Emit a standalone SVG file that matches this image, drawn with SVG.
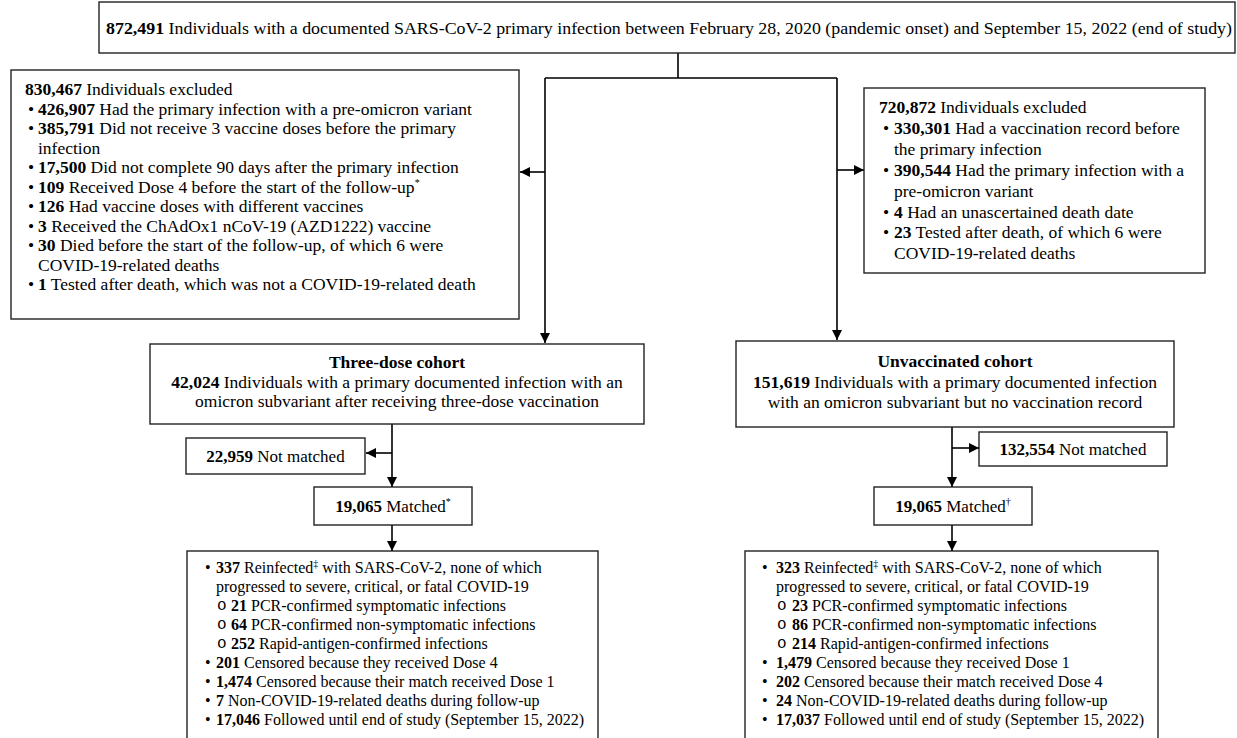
<svg xmlns="http://www.w3.org/2000/svg" width="1237" height="738" viewBox="0 0 1237 738">
<defs>
<style>
.t{font-family:"Liberation Serif","Times New Roman",serif;font-size:17.5px;fill:#000}
.m{font-size:17px}
.s{font-size:16px}
.o{font-family:"Liberation Mono","Courier New",monospace;font-size:16px;fill:#000}
.b{font-weight:bold}
.c{text-anchor:middle}
.box{fill:#fff;stroke:#222;stroke-width:1.4}
.ln{stroke:#000;stroke-width:1.6;fill:none}
.a{marker-end:url(#ah)}
</style>
<marker id="ah" markerWidth="10" markerHeight="10" refX="10" refY="5" orient="auto" markerUnits="userSpaceOnUse">
<path d="M0,0 L10,5 L0,10 z" fill="#000"/>
</marker>
</defs>
<rect width="1237" height="738" fill="#fff"/>

<g id="connectors">
<path class="ln" d="M678,53 V78 M545,78 H837"/>
<path class="ln a" d="M545,78 V343"/>
<path class="ln a" d="M545,172 H520"/>
<path class="ln a" d="M837,78 V340"/>
<path class="ln a" d="M837,170 H864"/>
<path class="ln a" d="M392,424 V487"/>
<path class="ln a" d="M392,453 H366"/>
<path class="ln a" d="M952,427 V487"/>
<path class="ln a" d="M952,448 H979"/>
<path class="ln a" d="M392,525 V551"/>
<path class="ln a" d="M952,525 V551"/>
</g>

<g id="top">
<rect class="box" x="99" y="2" width="1136" height="51"/>
<text class="t" x="106" y="34" textLength="1126" lengthAdjust="spacingAndGlyphs"><tspan class="b">872,491</tspan> Individuals with a documented SARS-CoV-2 primary infection between February 28, 2020 (pandemic onset) and September 15, 2022 (end of study)</text>
</g>

<g id="excluded-left">
<rect class="box" x="11" y="70" width="508" height="249"/>
<text class="t" x="25" y="95"><tspan class="b">830,467</tspan> Individuals excluded</text>
<text class="t" x="28" y="114.5">•</text><text class="t" x="38" y="114.5"><tspan class="b">426,907</tspan> Had the primary infection with a pre-omicron variant</text>
<text class="t" x="28" y="134">•</text><text class="t" x="38" y="134"><tspan class="b">385,791</tspan> Did not receive 3 vaccine doses before the primary</text>
<text class="t" x="38" y="153.5">infection</text>
<text class="t" x="28" y="173">•</text><text class="t" x="38" y="173"><tspan class="b">17,500</tspan> Did not complete 90 days after the primary infection</text>
<text class="t" x="28" y="192.5">•</text><text class="t" x="38" y="192.5"><tspan class="b">109</tspan> Received Dose 4 before the start of the follow-up<tspan font-size="10" dy="-7">*</tspan></text>
<text class="t" x="28" y="212">•</text><text class="t" x="38" y="212"><tspan class="b">126</tspan> Had vaccine doses with different vaccines</text>
<text class="t" x="28" y="231.5">•</text><text class="t" x="38" y="231.5"><tspan class="b">3</tspan> Received the ChAdOx1 nCoV-19 (AZD1222) vaccine</text>
<text class="t" x="28" y="251">•</text><text class="t" x="38" y="251"><tspan class="b">30</tspan> Died before the start of the follow-up, of which 6 were</text>
<text class="t" x="38" y="270.5">COVID-19-related deaths</text>
<text class="t" x="28" y="290">•</text><text class="t" x="38" y="290"><tspan class="b">1</tspan> Tested after death, which was not a COVID-19-related death</text>
</g>

<g id="excluded-right">
<rect class="box" x="864" y="88" width="341" height="185"/>
<text class="t" x="879" y="113"><tspan class="b">720,872</tspan> Individuals excluded</text>
<text class="t" x="883" y="134">•</text><text class="t" x="894" y="134"><tspan class="b">330,301</tspan> Had a vaccination record before</text>
<text class="t" x="894" y="155">the primary infection</text>
<text class="t" x="883" y="176">•</text><text class="t" x="894" y="176"><tspan class="b">390,544</tspan> Had the primary infection with a</text>
<text class="t" x="894" y="197">pre-omicron variant</text>
<text class="t" x="883" y="218">•</text><text class="t" x="894" y="218"><tspan class="b">4</tspan> Had an unascertained death date</text>
<text class="t" x="883" y="238">•</text><text class="t" x="894" y="238"><tspan class="b">23</tspan> Tested after death, of which 6 were</text>
<text class="t" x="894" y="259">COVID-19-related deaths</text>
</g>

<g id="cohort-three-dose">
<rect class="box" x="150" y="344" width="494" height="80"/>
<text class="t c b" x="397" y="368">Three-dose cohort</text>
<text class="t c" x="397" y="388"><tspan class="b">42,024</tspan> Individuals with a primary documented infection with an</text>
<text class="t c" x="397" y="407">omicron subvariant after receiving three-dose vaccination</text>
</g>

<g id="cohort-unvaccinated">
<rect class="box" x="736" y="341" width="438" height="86"/>
<text class="t c b" x="955" y="367">Unvaccinated cohort</text>
<text class="t c" x="955" y="388"><tspan class="b">151,619</tspan> Individuals with a primary documented infection</text>
<text class="t c" x="955" y="408">with an omicron subvariant but no vaccination record</text>
</g>

<g id="notmatched-left">
<rect class="box" x="186" y="438" width="179" height="36"/>
<text class="t m c" x="275.5" y="462"><tspan class="b">22,959</tspan> Not matched</text>
</g>

<g id="notmatched-right">
<rect class="box" x="979" y="432" width="188" height="34"/>
<text class="t m c" x="1073" y="455"><tspan class="b">132,554</tspan> Not matched</text>
</g>

<g id="matched-left">
<rect class="box" x="314" y="487" width="158" height="38"/>
<text class="t m c" x="393" y="512"><tspan class="b">19,065</tspan> Matched<tspan font-size="10" dy="-7">*</tspan></text>
</g>

<g id="matched-right">
<rect class="box" x="874" y="487" width="158" height="38"/>
<text class="t m c" x="953" y="512"><tspan class="b">19,065</tspan> Matched<tspan font-size="10" dy="-7">†</tspan></text>
</g>

<g id="outcome-left">
<rect class="box" x="187" y="551" width="411" height="200"/>
<text class="t s" x="205" y="573">•</text><text class="t s" x="216" y="573"><tspan class="b">337</tspan> Reinfected<tspan font-size="10" dy="-6">‡</tspan><tspan dy="6"> with SARS-CoV-2, none of which</tspan></text>
<text class="t s" x="216" y="592">progressed to severe, critical, or fatal COVID-19</text>
<text class="o" x="217" y="610">o</text><text class="t s" x="231" y="611"><tspan class="b">21</tspan> PCR-confirmed symptomatic infections</text>
<text class="o" x="217" y="629">o</text><text class="t s" x="231" y="630"><tspan class="b">64</tspan> PCR-confirmed non-symptomatic infections</text>
<text class="o" x="217" y="648">o</text><text class="t s" x="231" y="649"><tspan class="b">252</tspan> Rapid-antigen-confirmed infections</text>
<text class="t s" x="205" y="668">•</text><text class="t s" x="216" y="668"><tspan class="b">201</tspan> Censored because they received Dose 4</text>
<text class="t s" x="205" y="687">•</text><text class="t s" x="216" y="687"><tspan class="b">1,474</tspan> Censored because their match received Dose 1</text>
<text class="t s" x="205" y="706">•</text><text class="t s" x="216" y="706"><tspan class="b">7</tspan> Non-COVID-19-related deaths during follow-up</text>
<text class="t s" x="205" y="725">•</text><text class="t s" x="216" y="725"><tspan class="b">17,046</tspan> Followed until end of study (September 15, 2022)</text>
</g>

<g id="outcome-right">
<rect class="box" x="745" y="551" width="413" height="200"/>
<text class="t s" x="762" y="573">•</text><text class="t s" x="776" y="573"><tspan class="b">323</tspan> Reinfected<tspan font-size="10" dy="-6">‡</tspan><tspan dy="6"> with SARS-CoV-2, none of which</tspan></text>
<text class="t s" x="776" y="592">progressed to severe, critical, or fatal COVID-19</text>
<text class="o" x="777" y="610">o</text><text class="t s" x="792" y="611"><tspan class="b">23</tspan> PCR-confirmed symptomatic infections</text>
<text class="o" x="777" y="629">o</text><text class="t s" x="792" y="630"><tspan class="b">86</tspan> PCR-confirmed non-symptomatic infections</text>
<text class="o" x="777" y="648">o</text><text class="t s" x="792" y="649"><tspan class="b">214</tspan> Rapid-antigen-confirmed infections</text>
<text class="t s" x="762" y="668">•</text><text class="t s" x="776" y="668"><tspan class="b">1,479</tspan> Censored because they received Dose 1</text>
<text class="t s" x="762" y="687">•</text><text class="t s" x="776" y="687"><tspan class="b">202</tspan> Censored because their match received Dose 4</text>
<text class="t s" x="762" y="706">•</text><text class="t s" x="776" y="706"><tspan class="b">24</tspan> Non-COVID-19-related deaths during follow-up</text>
<text class="t s" x="762" y="725">•</text><text class="t s" x="776" y="725"><tspan class="b">17,037</tspan> Followed until end of study (September 15, 2022)</text>
</g>
</svg>
